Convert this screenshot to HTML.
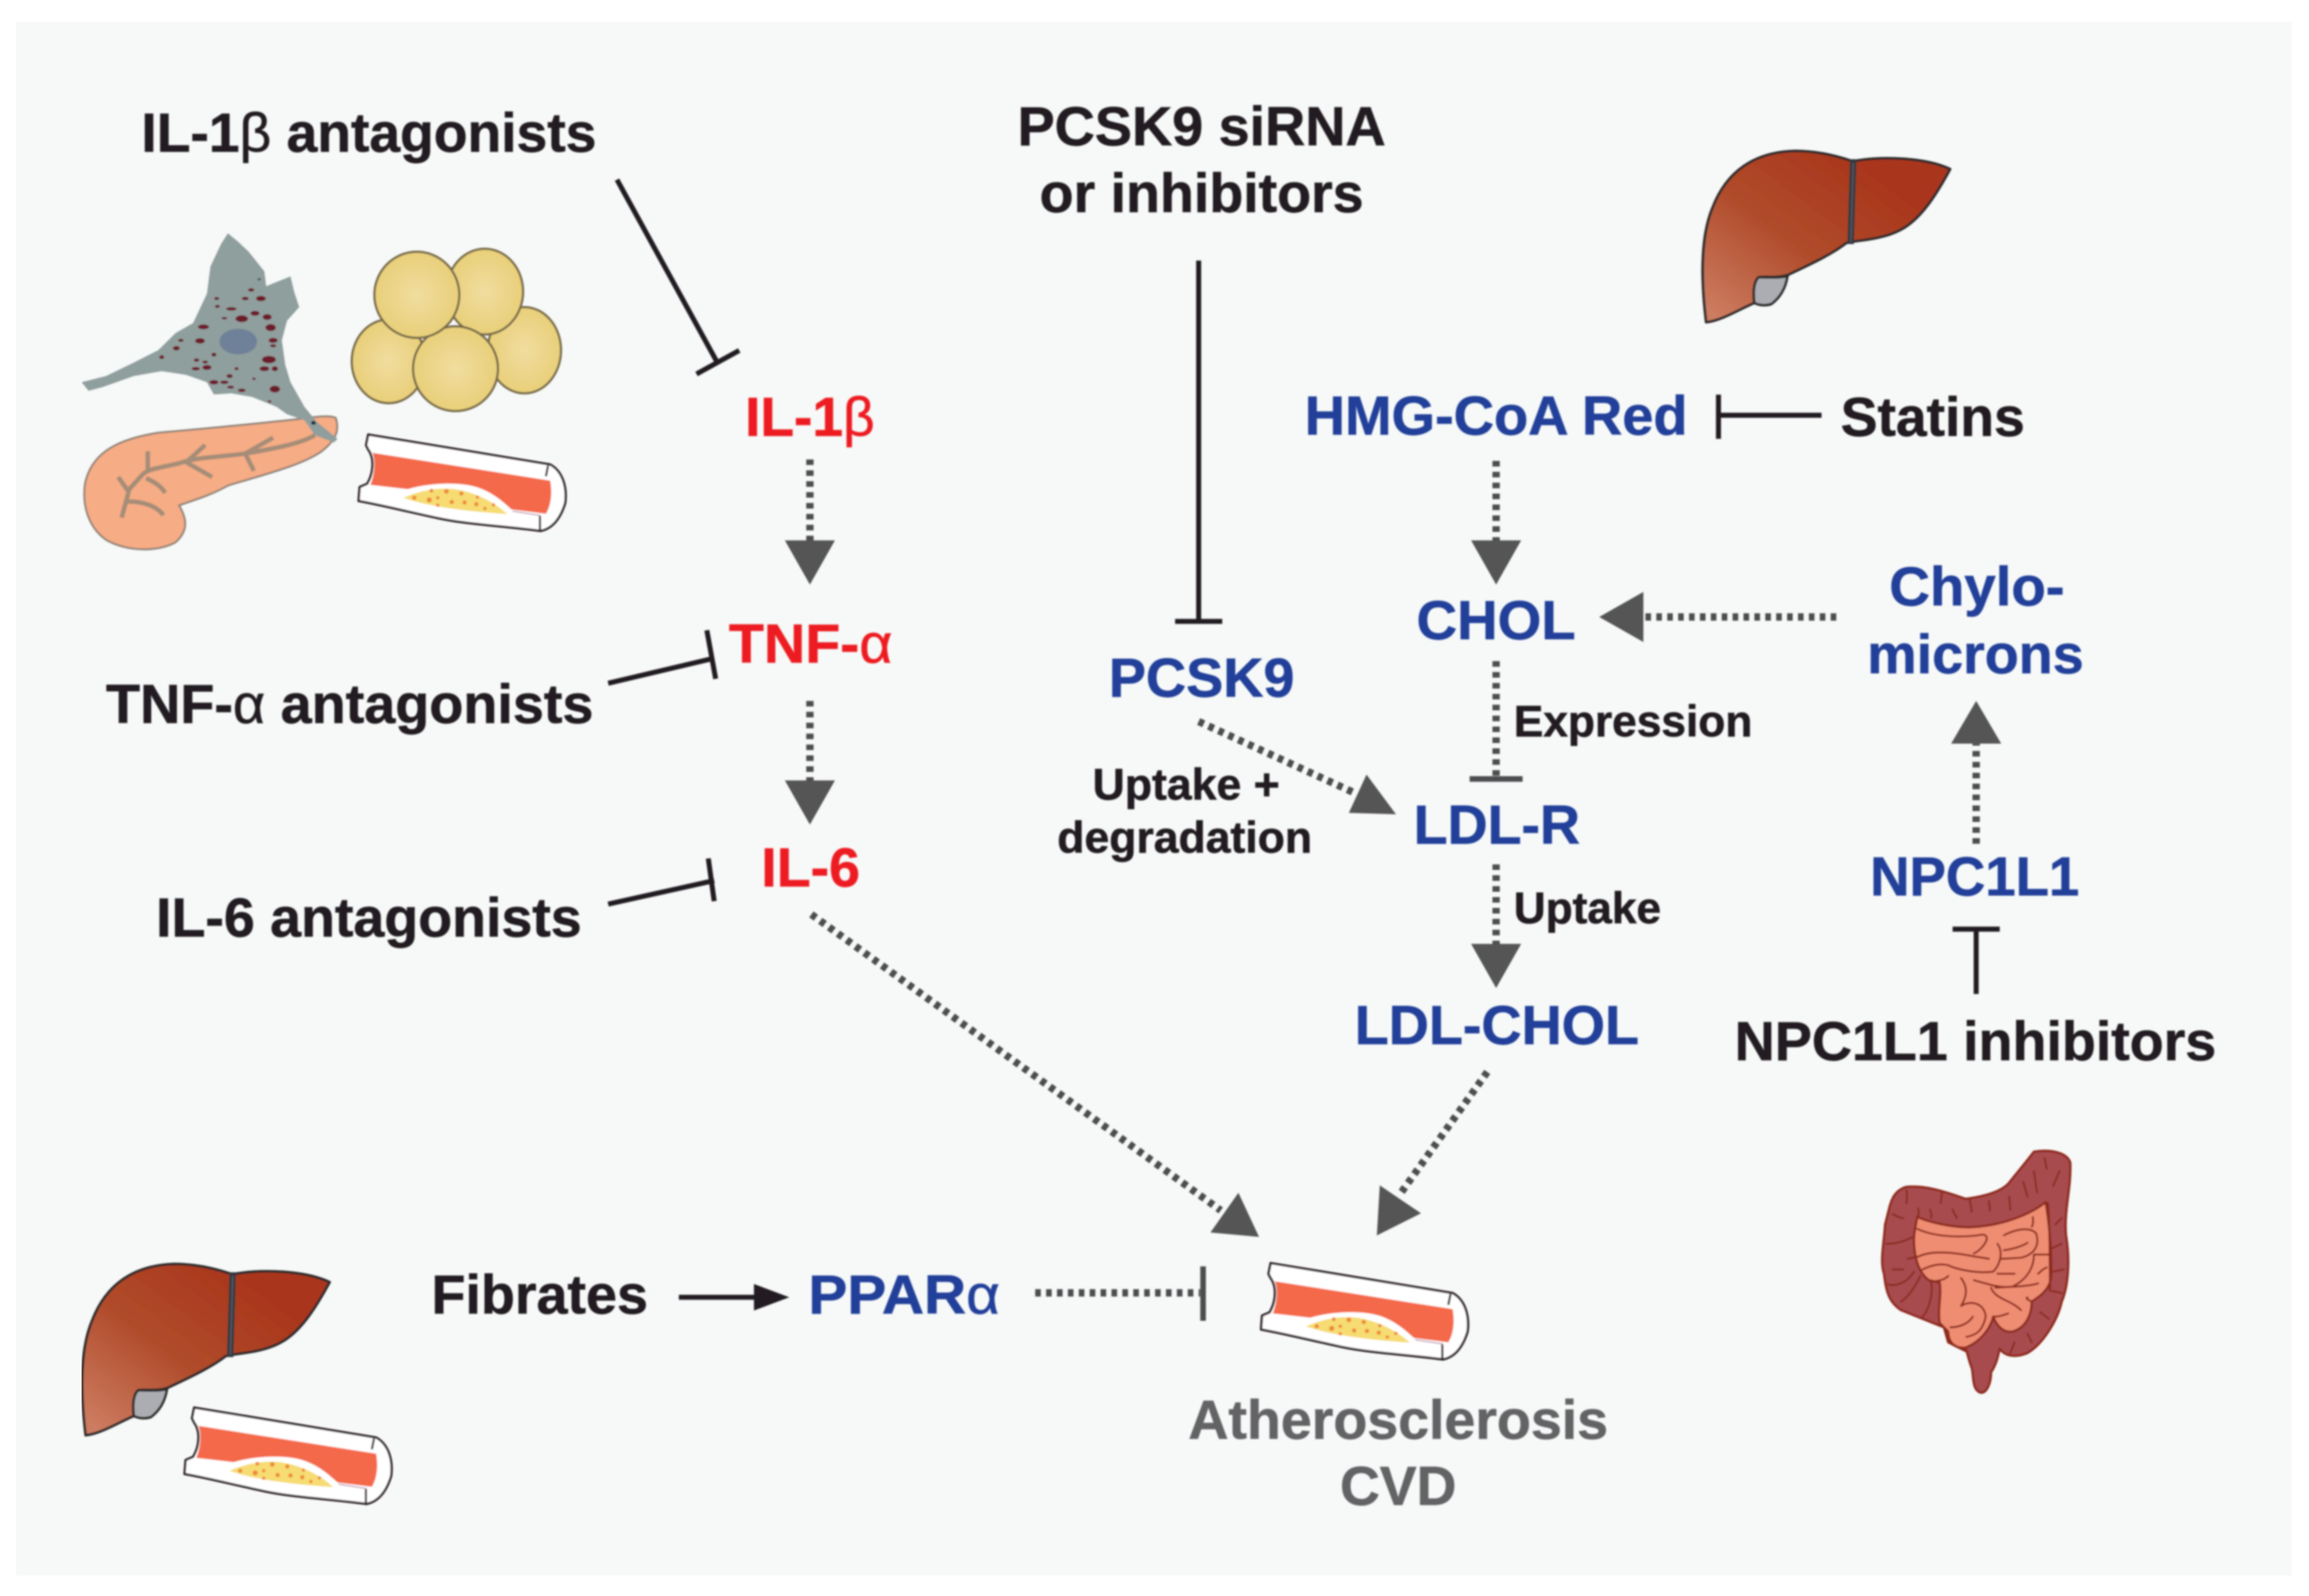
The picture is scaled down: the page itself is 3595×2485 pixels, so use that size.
<!DOCTYPE html>
<html><head><meta charset="utf-8"><style>
html,body{margin:0;padding:0;background:#fff;overflow:hidden}
svg{display:block}
text{font-family:"Liberation Sans",sans-serif;font-weight:700;font-size:37.3px;fill:#231f20;stroke:#231f20;stroke-width:.4}
.r{fill:#ed1c24;stroke:#ed1c24}.b{fill:#21409a;stroke:#21409a}.g{fill:#636466;stroke:#636466}.s{font-size:30px}
.gk{font-weight:400}
.d{stroke:#4d4d4f;stroke-width:5;stroke-dasharray:3.8 3.6;fill:none}
.t{stroke:#231f20;stroke-width:3.4;fill:none}
.tg{stroke:#4d4d4f;stroke-width:3.8;fill:none}
.h{fill:#555557}
</style></head><body>
<svg xmlns="http://www.w3.org/2000/svg" xmlns:xlink="http://www.w3.org/1999/xlink" width="3595" height="2485" viewBox="0 0 3595 2485">
<defs>
<filter id="bl" x="0" y="0" width="100%" height="100%"><feGaussianBlur stdDeviation="1.2"/></filter>
<linearGradient id="lv" x1="0.05" y1="0.95" x2="0.8" y2="0.25"><stop offset="0" stop-color="#cc7b60"/><stop offset="0.5" stop-color="#b04c2b"/><stop offset="1" stop-color="#a9361b"/></linearGradient>
<radialGradient id="ad"><stop offset="0" stop-color="#f1dd9f"/><stop offset="1" stop-color="#e8cf7a"/></radialGradient>
<g id="liver">
<path d="M175,905C150,700 150,500 205,370C270,200 400,110 590,105C700,105 790,130 850,150L880,150C1000,130 1200,135 1315,190C1250,310 1180,420 1090,470C1020,510 930,520 850,530L830,535C760,590 650,640 555,685C500,700 450,690 420,695C395,715 395,780 400,815C320,850 240,900 175,905Z" fill="url(#lv)" stroke="#2b2a2b" stroke-width="12" stroke-linejoin="round"/>
<path d="M420,695C460,695 510,700 555,690C545,750 520,790 480,820C450,830 420,825 400,815C395,770 395,720 420,695Z" fill="#acadb2" stroke="#2b2a2b" stroke-width="12"/>
<path d="M862,148L850,540" stroke="#33383f" stroke-width="30" fill="none"/>
<path d="M862,160L851,530" stroke="#5a6068" stroke-width="6" fill="none"/>
</g>
<g id="vessel">
<path d="M235,200L1085,340C1140,370 1165,440 1155,520C1130,600 1090,640 1040,650C850,625 700,620 560,590C420,560 300,530 190,510L195,445L230,430C260,380 265,310 235,270L225,250Z" fill="#fff" stroke="#2b1f24" stroke-width="11" stroke-linejoin="round"/>
<path d="M255,285L1085,415C1095,470 1090,530 1065,570L905,550C870,520 820,470 740,445C660,420 520,425 420,455L245,435C265,385 270,325 255,285Z" fill="#f4694a"/>
<path d="M400,495C470,465 550,445 640,455C740,470 830,520 885,572C720,560 520,540 400,495Z" fill="#f6dc72"/>
<g fill="#ee8a3a"><circle cx="530" cy="462" r="9"/><circle cx="600" cy="465" r="11"/><circle cx="670" cy="475" r="10"/><circle cx="450" cy="495" r="10"/><circle cx="520" cy="505" r="12"/><circle cx="560" cy="495" r="8"/><circle cx="625" cy="515" r="10"/><circle cx="685" cy="517" r="10"/><circle cx="740" cy="525" r="10"/><circle cx="745" cy="492" r="8"/><circle cx="820" cy="528" r="8"/><circle cx="780" cy="545" r="8"/><circle cx="560" cy="530" r="8"/></g>
<path d="M1075,345L1065,395M1037,580L1037,650" stroke="#2b1f24" stroke-width="10" fill="none"/>
<path d="M910,558L1040,578" stroke="#b98aa8" stroke-width="5" fill="none"/>
</g>
</defs>
<rect width="3595" height="2485" fill="#fff"/>
<rect x="25" y="34" width="3543" height="2419" fill="#f7f9f8"/>
<g filter="url(#bl)">
<!-- left cluster -->
<g transform="translate(100,300) scale(0.542,0.3833)">
<path vector-effect="non-scaling-stroke" d="M60,1180C80,1050 160,1000 270,975C400,960 500,945 640,925C700,915 760,900 780,915C790,960 785,1000 740,1050C680,1110 560,1150 470,1190C420,1230 370,1250 330,1270C350,1320 360,1370 320,1420C270,1460 180,1460 120,1410C70,1360 50,1270 60,1180Z" fill="#f6ac84" stroke="#8f8378" stroke-width="3"/>
<g fill="none" stroke="#a58d78" stroke-width="7">
<path vector-effect="non-scaling-stroke" d="M720,985C680,1020 600,1040 520,1060C440,1075 380,1075 340,1095C290,1115 240,1120 225,1145L180,1215"/>
<path vector-effect="non-scaling-stroke" d="M240,1050L240,1125M405,1025L350,1095L425,1155M600,995L520,1060L545,1130M155,1155L185,1215L165,1320M175,1255C230,1250 270,1280 285,1310M235,1160C260,1175 280,1195 290,1220"/>
</g>
<path d="M470,165L500,200L530,240L575,320L580,380L650,340L660,400L675,465L640,520L625,600L635,700L650,770L690,870L725,930L785,1000L775,1015L720,985L690,925L640,900L610,870L540,830L480,815L430,820L410,770L350,740L280,725L200,745L110,790L70,805L50,770L120,745L200,690L270,640L320,570L370,530L410,410L420,300L450,210Z" fill="#8f9f9d"/>
<ellipse cx="500" cy="605" rx="54" ry="52" fill="#6e8198"/>
<g fill="#6d1b2c">
<ellipse cx="510" cy="512" rx="18" ry="14"/><ellipse cx="593" cy="548" rx="15" ry="14"/><ellipse cx="390" cy="602" rx="14" ry="11"/><ellipse cx="588" cy="678" rx="20" ry="15"/><ellipse cx="322" cy="632" rx="10" ry="9"/><ellipse cx="605" cy="798" rx="15" ry="14"/>
<ellipse cx="400" cy="545" rx="16" ry="10"/><ellipse cx="565" cy="430" rx="14" ry="11"/><ellipse cx="520" cy="430" rx="10" ry="7"/><ellipse cx="537" cy="395" rx="9" ry="7"/><ellipse cx="438" cy="430" rx="7" ry="6"/><ellipse cx="440" cy="462" rx="7" ry="6"/><ellipse cx="480" cy="472" rx="15" ry="7"/><ellipse cx="548" cy="490" rx="13" ry="10"/><ellipse cx="583" cy="505" rx="13" ry="12"/>
<ellipse cx="600" cy="600" rx="13" ry="10"/><ellipse cx="600" cy="622" rx="9" ry="6"/><ellipse cx="410" cy="710" rx="13" ry="10"/><ellipse cx="378" cy="715" rx="12" ry="7"/><ellipse cx="430" cy="770" rx="13" ry="9"/><ellipse cx="460" cy="770" rx="12" ry="7"/><ellipse cx="475" cy="745" rx="9" ry="8"/><ellipse cx="478" cy="790" rx="10" ry="6"/><ellipse cx="510" cy="803" rx="11" ry="7"/><ellipse cx="575" cy="715" rx="14" ry="10"/><ellipse cx="605" cy="715" rx="9" ry="10"/><ellipse cx="495" cy="715" rx="6" ry="6"/><ellipse cx="335" cy="600" rx="8" ry="6"/><ellipse cx="430" cy="658" rx="7" ry="8"/><ellipse cx="380" cy="680" rx="8" ry="7"/><ellipse cx="405" cy="688" rx="8" ry="6"/><ellipse cx="460" cy="510" rx="8" ry="5"/><ellipse cx="545" cy="756" rx="5" ry="5"/><ellipse cx="280" cy="668" rx="7" ry="8"/><ellipse cx="590" cy="848" rx="5" ry="5"/><ellipse cx="560" cy="352" rx="5" ry="5" fill="#4d5a5d"/>
</g>
<ellipse cx="716" cy="935" rx="7" ry="8" fill="#1d2d3a"/>
<g fill="url(#ad)" stroke="#76694a" stroke-width="3.5">
<ellipse vector-effect="non-scaling-stroke" cx="1322" cy="640" rx="105" ry="175"/>
<ellipse vector-effect="non-scaling-stroke" cx="1208" cy="402" rx="110" ry="174"/>
<ellipse vector-effect="non-scaling-stroke" cx="932" cy="685" rx="106" ry="170"/>
<ellipse vector-effect="non-scaling-stroke" cx="1124" cy="715" rx="122" ry="172"/>
<ellipse vector-effect="non-scaling-stroke" cx="1013" cy="415" rx="122" ry="175"/>
</g>
</g>
<use xlink:href="#vessel" href="#vessel" transform="translate(495,610) scale(0.3333)"/>
<use xlink:href="#vessel" href="#vessel" transform="translate(224,2125) scale(0.3333)"/>
<use xlink:href="#vessel" href="#vessel" transform="translate(1900,1900) scale(0.3333)"/>
<use xlink:href="#liver" href="#liver" transform="translate(2598,200) scale(0.3333)"/>
<use xlink:href="#liver" href="#liver" transform="translate(75,1933) scale(0.3333)"/>
<!-- intestine -->
<g transform="translate(2880,1750) scale(0.3333)" stroke-linejoin="round" stroke-linecap="round">
<path d="M860,130C920,120 1010,125 1030,180C1035,300 1000,400 1010,520C1030,640 1020,760 990,830C970,920 900,1030 830,1070C780,1090 730,1090 700,1050C690,1100 680,1130 660,1160C660,1210 640,1260 610,1255C570,1240 580,1180 570,1140C550,1090 545,1040 540,1060L460,1020L440,950L340,910L240,870C180,830 170,780 160,700C140,640 160,560 165,470C190,380 190,320 260,295C340,285 430,310 540,350C620,340 700,320 740,280C780,230 830,170 860,130Z" fill="#a84c50" stroke="#8e2a1c" stroke-width="11"/>
<path d="M315,435C400,470 520,490 600,480C720,470 850,420 915,365C930,450 945,600 940,720C930,780 880,810 850,830C850,880 830,950 760,970C720,975 690,950 670,900C660,950 610,1020 540,1045C490,1050 460,1020 460,970L420,930C410,860 430,800 420,740L370,730C330,700 300,640 300,540C300,500 310,470 315,435Z" fill="#ee8d72" stroke="#8e2a1c" stroke-width="11"/>
<g fill="none" stroke="#8e2a1c" stroke-width="9">
<path d="M315,490C400,530 520,530 600,520C640,510 650,530 630,560C610,590 590,600 580,605M320,620C380,590 480,600 560,615L650,630M690,560C720,600 700,660 670,690C600,700 500,680 460,660C420,650 380,660 340,680M720,520C780,490 840,480 870,510C890,570 860,610 800,625L710,630M720,590C760,585 810,570 830,555M860,610C860,680 820,730 760,760C700,770 620,740 580,730M660,765C680,820 750,820 800,870M880,745C830,760 760,760 680,765M690,700L770,700M850,830C830,820 820,815 830,810M520,720C550,760 550,800 520,850C570,820 630,840 635,900C620,970 590,985 545,995M575,900C550,940 500,950 470,950M740,885C700,900 690,900 670,900M460,710C440,730 420,730 400,735M860,610L930,610M920,670C900,680 890,690 880,700M855,435C860,470 850,480 850,480"/>
<path d="M925,370C935,450 935,700 935,780" stroke-width="10"/>
<path d="M320,395C325,420 320,430 315,440M265,310C270,340 265,360 265,370M375,400C385,430 380,440 380,440M430,320L425,370M480,400L500,440M560,350L570,410M650,360L655,405M745,340L750,400M810,270L830,340M860,220L875,320M910,160L920,210M980,220L950,290M960,470L990,440M945,580L990,560M950,690L1000,680M945,780L990,790M890,880L930,910M830,980L850,1020M770,1020L750,1070M320,620L270,630M200,680L250,680M200,420C230,440 250,440 250,440M170,560C230,560 270,540 290,530M180,750C220,760 270,740 300,690M240,830C270,810 300,770 330,710M340,900C370,870 390,790 380,740"/>
</g>
</g>

<!-- connectors -->
<g transform="scale(2.2927)">
<path class="t" d="M419,122L487,246M473,254L502,238"/>
<path class="d" d="M550,312V368"/><path class="h" d="M533,367H567L550,397Z"/>
<path class="d" d="M550,476V531"/><path class="h" d="M533,530H567L550,560Z"/>
<path class="t" d="M413,464L485,447M480,428L486,461"/>
<path class="t" d="M413,614L485,598M481,583L485,612"/>
<path class="d" d="M551,621L829,822"/><path class="h" d="M841,810L822,837L855,840Z"/>
<path class="t" d="M814,177V422M798,422H830"/>
<path class="t" d="M1237,282H1167M1167,268V298"/>
<path class="d" d="M1016,313V368"/><path class="h" d="M999,367H1033L1016,397Z"/>
<path class="d" d="M1247,419H1115"/><path class="h" d="M1116,402V436L1086,419Z"/>
<path class="d" d="M1016,449V528"/><path class="tg" d="M998,529H1034"/>
<path class="d" d="M814,490L921,539"/><path class="h" d="M928,526L916,552L948,553Z"/>
<path class="d" d="M1016,587V642"/><path class="h" d="M999,641H1033L1016,671Z"/>
<path class="d" d="M1010,728L950,812"/><path class="h" d="M937,805L965,824L935,839Z"/>
<path class="d" d="M1342,573V505"/><path class="h" d="M1325,505H1359L1342,476Z"/>
<path class="t" d="M1342,675V631M1326,631H1358"/>
<path class="t" d="M461,881H514"/><path d="M512,872V890L536,881Z" fill="#231f20"/>
<path class="d" d="M703,878H815"/><path class="tg" d="M817,860V897"/>

<!-- labels -->
<text x="96" y="103" textLength="309" lengthAdjust="spacingAndGlyphs">IL-1<tspan class="gk">β</tspan> antagonists</text>
<text x="691" y="98.5" textLength="250" lengthAdjust="spacingAndGlyphs">PCSK9 siRNA</text>
<text x="706" y="144" textLength="220" lengthAdjust="spacingAndGlyphs">or inhibitors</text>
<text class="r" x="506" y="296" textLength="88" lengthAdjust="spacingAndGlyphs">IL-1<tspan class="gk">β</tspan></text>
<text class="r" x="495" y="450" textLength="111" lengthAdjust="spacingAndGlyphs">TNF-<tspan class="gk">α</tspan></text>
<text class="r" x="517" y="602" textLength="67" lengthAdjust="spacingAndGlyphs">IL-6</text>
<text x="72" y="491" textLength="331" lengthAdjust="spacingAndGlyphs">TNF-<tspan class="gk">α</tspan> antagonists</text>
<text x="106" y="636" textLength="289" lengthAdjust="spacingAndGlyphs">IL-6 antagonists</text>
<text class="b" x="886" y="295" textLength="260" lengthAdjust="spacingAndGlyphs">HMG-CoA Red</text>
<text x="1250" y="296" textLength="125" lengthAdjust="spacingAndGlyphs">Statins</text>
<text class="b" x="962" y="434" textLength="108" lengthAdjust="spacingAndGlyphs">CHOL</text>
<text class="b" x="1283" y="411" textLength="119" lengthAdjust="spacingAndGlyphs">Chylo-</text>
<text class="b" x="1268" y="457" textLength="147" lengthAdjust="spacingAndGlyphs">microns</text>
<text class="b" x="753" y="473" textLength="126" lengthAdjust="spacingAndGlyphs">PCSK9</text>
<text class="s" x="1028" y="500" textLength="162" lengthAdjust="spacingAndGlyphs">Expression</text>
<text class="s" x="742" y="543" textLength="127" lengthAdjust="spacingAndGlyphs">Uptake +</text>
<text class="s" x="718" y="579" textLength="173" lengthAdjust="spacingAndGlyphs">degradation</text>
<text class="b" x="960" y="573" textLength="113" lengthAdjust="spacingAndGlyphs">LDL-R</text>
<text class="s" x="1028" y="627" textLength="100" lengthAdjust="spacingAndGlyphs">Uptake</text>
<text class="b" x="1270" y="608" textLength="142" lengthAdjust="spacingAndGlyphs">NPC1L1</text>
<text class="b" x="920" y="709" textLength="193" lengthAdjust="spacingAndGlyphs">LDL-CHOL</text>
<text x="1178" y="720" textLength="327" lengthAdjust="spacingAndGlyphs">NPC1L1 inhibitors</text>
<text x="293" y="892" textLength="147" lengthAdjust="spacingAndGlyphs">Fibrates</text>
<text class="b" x="549" y="892" textLength="130" lengthAdjust="spacingAndGlyphs">PPAR<tspan class="gk">α</tspan></text>
<text class="g" x="807" y="977" textLength="285" lengthAdjust="spacingAndGlyphs">Atherosclerosis</text>
<text class="g" x="910" y="1022" textLength="79" lengthAdjust="spacingAndGlyphs">CVD</text>
</g>
</g>
</svg>
</body></html>
